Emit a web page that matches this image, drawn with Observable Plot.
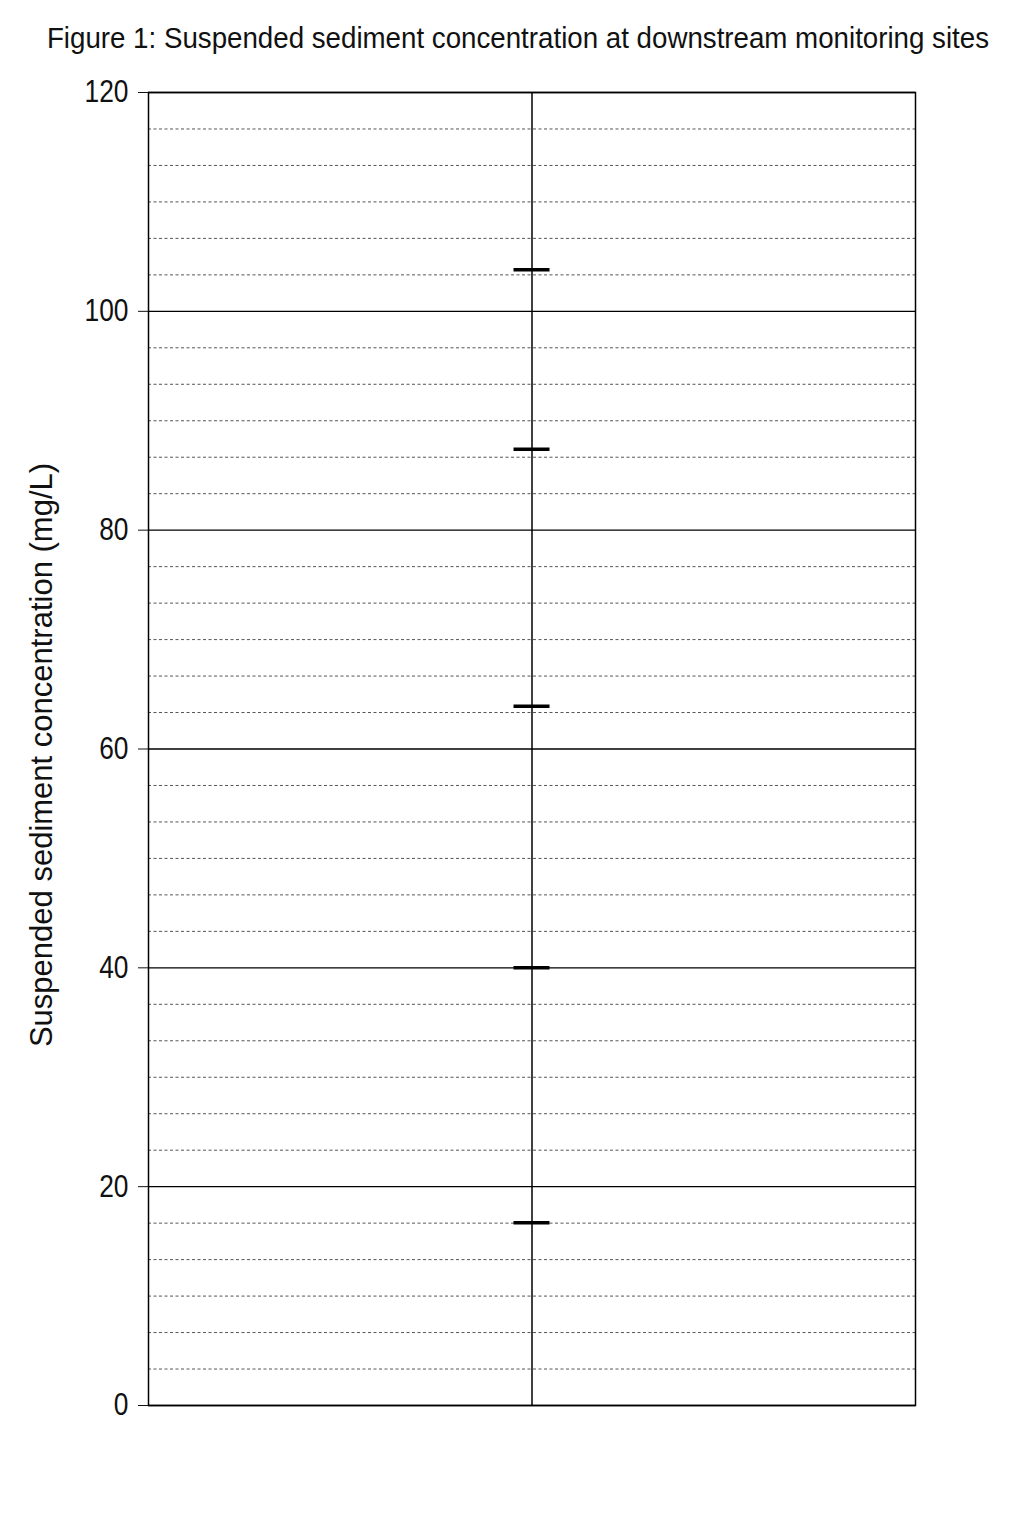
<!DOCTYPE html>
<html>
<head>
<meta charset="utf-8">
<script src="https://cdn.jsdelivr.net/npm/d3@7"></script>
<script src="https://cdn.jsdelivr.net/npm/@observablehq/plot@0.6"></script>
<style>
  html, body { margin: 0; padding: 0; background: #fff; }
  #title {
    height: 70px; line-height: 76px; text-align: center; white-space: nowrap;
    font-family: "Liberation Sans", Arial, sans-serif;
    font-size: 29px; color: #111;
    transform: translateX(6px) scaleX(0.955);
  }
  #chart svg { display: block; }
</style>
</head>
<body>
<div id="title">Figure 1: Suspended sediment concentration at downstream monitoring sites</div>
<div id="chart"></div>
<script>
// Data
const categories = ["Downstream sites"];
const concentrations = [16.7, 40, 63.9, 87.4, 103.8]; // mg/L
const majorTicks = [0, 20, 40, 60, 80, 100, 120];
const minorTicks = d3.range(0, 120.001, 20 / 6).filter(v => Math.abs(v / 20 - Math.round(v / 20)) > 1e-6);
const yLabel = "Suspended sediment concentration (mg/L)";

const rows = concentrations.map(v => ({site: categories[0], value: v}));

const font = `"Liberation Sans", Arial, sans-serif`;

const chart = Plot.plot({
  width: 1024,
  height: 1400,
  marginTop: 22,
  marginBottom: 65,
  marginLeft: 148,
  marginRight: 109,
  style: {fontFamily: font, fontSize: "31px", color: "#111", background: "#fff"},
  x: {type: "band", domain: categories, padding: 0, axis: null},
  y: {domain: [0, 120], ticks: majorTicks},
  marks: [
    Plot.ruleY(minorTicks, {stroke: "#555", strokeWidth: 1, strokeDasharray: "3,2.5"}),
    Plot.gridY(majorTicks, {stroke: "#000", strokeOpacity: 1, strokeWidth: 1.3}),
    Plot.ruleX(categories, {x: d => d, stroke: "#000", strokeWidth: 1.5}),
    Plot.tickY(rows, {x: "site", y: "value", stroke: "#000", strokeWidth: 3.5, insetLeft: 365.5, insetRight: 365.5}),
    Plot.frame({stroke: "#000", strokeWidth: 1.5}),
    Plot.axisY(majorTicks, {
      tickSize: 10, tickPadding: 10, tickFormat: d => String(d),
      label: yLabel, labelAnchor: "center", labelArrow: "none", labelOffset: 119,
      fontSize: 31
    })
  ]
});
document.getElementById("chart").appendChild(chart);
chart.querySelectorAll("text").forEach(t => t.style.fontFamily = font);

// Emulate the condensed face of the original tick labels; nudge the axis label.
function appendTransform(t, extra) {
  const base = t.getAttribute("transform") || "";
  t.setAttribute("transform", (base + " " + extra).trim());
}
chart.querySelectorAll('[aria-label="y-axis tick label"] text').forEach(t => appendTransform(t, "scale(0.85,1)"));
chart.querySelectorAll('[aria-label="y-axis label"] text').forEach(t => appendTransform(t, "translate(-6,0)"));
</script>
</body>
</html>
